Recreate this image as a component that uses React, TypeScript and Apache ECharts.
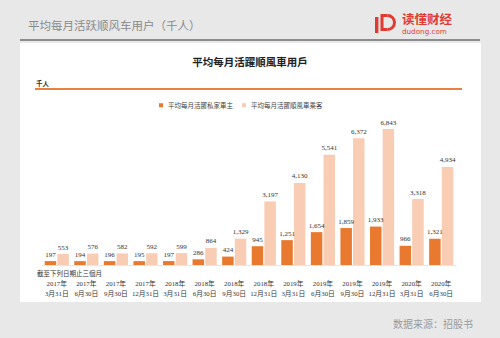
import React, { useEffect, useRef } from "react";
import * as echarts from "echarts";

const categories = [
  "2017年\n3月31日", "2017年\n6月30日", "2017年\n9月30日", "2017年\n12月31日",
  "2018年\n3月31日", "2018年\n6月30日", "2018年\n9月30日", "2018年\n12月31日",
  "2019年\n3月31日", "2019年\n6月30日", "2019年\n9月30日", "2019年\n12月31日",
  "2020年\n3月31日", "2020年\n6月30日",
];
const carOwners = [197, 194, 196, 195, 197, 286, 424, 945, 1251, 1654, 1859, 1933, 966, 1321];
const passengers = [553, 576, 582, 592, 599, 864, 1329, 3197, 4130, 5541, 6372, 6843, 3318, 4934];
const seriesNames = ["平均每月活躍私家車主", "平均每月活躍順風車乘客"];

const DARK = "#E8792F";
const LIGHT = "#F9CCB4";
const SERIF = "'Liberation Serif', 'Noto Sans CJK TC', serif";
const CJK = "'Noto Sans CJK SC', sans-serif";
const RED = "#e03a32";

export default function App() {
  const ref = useRef<HTMLDivElement>(null);
  useEffect(() => {
    const chart = echarts.init(ref.current!, null, { renderer: "svg" });
    const fmt = (p: any) => Number(p.value).toLocaleString("en-US");
    chart.setOption({
      animation: false,
      backgroundColor: "#e8e8e8",
      title: {
        text: "平均每月活躍順風車用戶",
        left: "center",
        top: 51,
        textStyle: { fontSize: 10.5, fontWeight: "bold", color: "#222", fontFamily: CJK },
      },
      legend: {
        left: 154,
        top: 97,
        itemWidth: 4,
        itemHeight: 4,
        itemGap: 9,
        icon: "rect",
        textStyle: { fontSize: 6.5, color: "#444", fontFamily: CJK },
        data: seriesNames,
      },
      grid: { left: 42, right: 44, top: 106, bottom: 73, containLabel: false },
      xAxis: {
        type: "category",
        data: categories,
        axisLine: { show: true, lineStyle: { color: "#eee3dc", width: 1 } },
        axisTick: { show: false },
        axisLabel: {
          margin: 14,
          fontSize: 6.8,
          lineHeight: 9.5,
          color: "#333",
          fontFamily: SERIF,
          interval: 0,
        },
      },
      yAxis: {
        type: "value",
        min: 0,
        max: 8000,
        show: false,
        splitLine: { show: false },
      },
      series: [
        {
          name: seriesNames[0],
          type: "bar",
          data: carOwners,
          barWidth: 11.5,
          barGap: "10%",
          itemStyle: { color: DARK },
          label: { show: true, position: "top", distance: 3, fontSize: 7, color: "#333", fontFamily: SERIF, formatter: fmt },
        },
        {
          name: seriesNames[1],
          type: "bar",
          data: passengers,
          barWidth: 11.5,
          itemStyle: { color: LIGHT },
          label: { show: true, position: "top", distance: 3, fontSize: 7, color: "#333", fontFamily: SERIF, formatter: fmt },
        },
      ],
      graphic: [
        { type: "rect", z: -10, shape: { x: 20, y: 43, width: 461, height: 259 }, style: { fill: "#ffffff" } },
        { type: "line", shape: { x1: 20, y1: 40, x2: 480, y2: 40 }, style: { stroke: "#6e6e6e", lineWidth: 1.5 } },
        {
          type: "text", x: 28, y: 25,
          style: { text: "平均每月活跃顺风车用户（千人）", fontSize: 11.5, fill: "#8a8a8a", fontFamily: CJK, verticalAlign: "middle" },
        },
        { type: "rect", shape: { x: 375, y: 17, width: 3.4, height: 16 }, style: { fill: RED } },
        {
          type: "group", x: 380.5, y: 14,
          children: [
            { type: "rect", shape: { x: 0, y: 0, width: 3, height: 17 }, style: { fill: RED } },
            { type: "arc", shape: { cx: 7, cy: 8.5, r: 7, startAngle: -Math.PI / 2, endAngle: Math.PI / 2 }, style: { stroke: RED, lineWidth: 3, fill: "none" } },
            { type: "line", shape: { x1: 1, y1: 1.5, x2: 7, y2: 1.5 }, style: { stroke: RED, lineWidth: 3 } },
            { type: "line", shape: { x1: 1, y1: 15.5, x2: 7, y2: 15.5 }, style: { stroke: RED, lineWidth: 3 } },
          ],
        },
        {
          type: "text", x: 402, y: 18.5,
          style: { text: "读懂财经", fontSize: 12.5, fontWeight: "bold", fill: RED, fontFamily: CJK, verticalAlign: "middle" },
        },
        {
          type: "text", x: 402, y: 31.5,
          style: { text: "dudong.com", fontSize: 7.2, fill: RED, fontFamily: "'DejaVu Sans', sans-serif", verticalAlign: "middle" },
        },
        {
          type: "text", x: 36, y: 83,
          style: { text: "千人", fontSize: 6.5, fontWeight: "bold", fill: "#333", fontFamily: CJK, verticalAlign: "middle" },
        },
        { type: "line", shape: { x1: 35, y1: 89, x2: 462, y2: 89 }, style: { stroke: "#ea8040", lineWidth: 2 } },
        {
          type: "text", x: 37, y: 273,
          style: { text: "截至下列日期止三個月", fontSize: 6.5, fill: "#333", fontFamily: CJK, verticalAlign: "middle" },
        },
        {
          type: "text", x: 393, y: 323,
          style: { text: "数据来源：招股书", fontSize: 10, fill: "#9a9a9a", fontFamily: CJK, verticalAlign: "middle" },
        },
      ],
    });
    return () => chart.dispose();
  }, []);
  return <div ref={ref} style={{ position: "fixed", left: 0, top: 0, width: 500, height: 338 }} />;
}
